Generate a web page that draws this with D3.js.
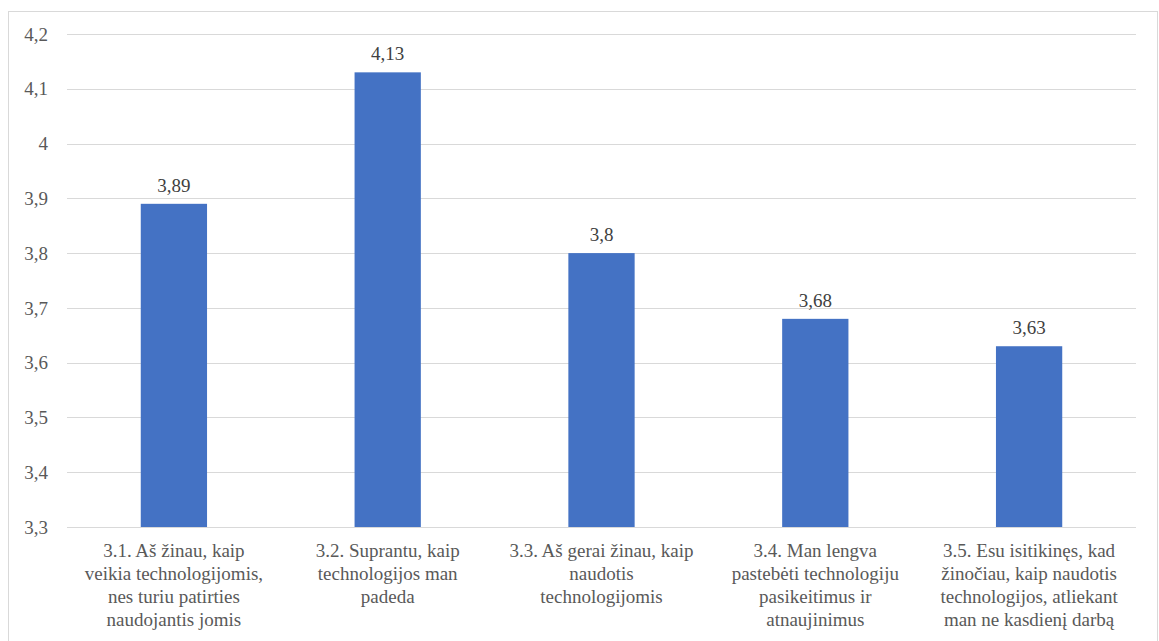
<!DOCTYPE html>
<html>
<head>
<meta charset="utf-8">
<script src="https://cdn.jsdelivr.net/npm/d3@7"></script>
<style>
  body { margin: 0; background: #fff; }
</style>
</head>
<body>
<div id="chart"></div>
<script>
// category labels (line breaks as in the original)
const categories = [
    "3.1. Aš žinau, kaip\nveikia technologijomis,\nnes turiu patirties\nnaudojantis jomis",
    "3.2. Suprantu, kaip\ntechnologijos man\npadeda",
    "3.3. Aš gerai žinau, kaip\nnaudotis\ntechnologijomis",
    "3.4. Man lengva\npastebėti technologiju\npasikeitimus ir\natnaujinimus",
    "3.5. Esu isitikinęs, kad\nžinočiau, kaip naudotis\ntechnologijos, atliekant\nman ne kasdienį darbą"
];
const values = [3.89, 4.13, 3.8, 3.68, 3.63];
const yTicks = [3.3, 3.4, 3.5, 3.6, 3.7, 3.8, 3.9, 4.0, 4.1, 4.2];

const width = 1159, height = 641;
const plot = { left: 67, right: 1136, top: 34, bottom: 527 };
const FONT = "'Liberation Serif', 'Times New Roman', Tinos, 'DejaVu Serif', serif";

const svg = d3.select("#chart").append("svg")
    .attr("width", width)
    .attr("height", height)
    .attr("font-family", FONT)
    .style("font-family", FONT);

// chart border
svg.append("rect")
    .attr("x", 8.5).attr("y", 11.5)
    .attr("width", 1149).attr("height", 640)
    .attr("fill", "#fff")
    .attr("stroke", "#d9d9d9");

const x = d3.scaleBand()
    .domain(categories)
    .range([plot.left, plot.right])
    .padding(0);

const y = d3.scaleLinear()
    .domain([3.3, 4.2])
    .range([plot.bottom, plot.top]);

const fmt = v => String(+v.toFixed(2)).replace(".", ",");

// gridlines
svg.append("g")
    .selectAll("line")
    .data(yTicks)
    .enter().append("line")
    .attr("x1", plot.left).attr("x2", plot.right)
    .attr("y1", d => Math.round(y(d)) + 0.5)
    .attr("y2", d => Math.round(y(d)) + 0.5)
    .attr("stroke", "#d9d9d9")
    .attr("stroke-width", 1);

// y tick labels
svg.append("g")
    .selectAll("text")
    .data(yTicks)
    .enter().append("text")
    .attr("x", 48)
    .attr("y", d => y(d))
    .attr("dy", "0.35em")
    .attr("text-anchor", "end")
    .attr("fill", "#595959")
    .style("font-size", "19px")
    .text(d => fmt(d));

// bars
const barW = x.bandwidth() * 0.31;
svg.append("g")
    .selectAll("rect")
    .data(values)
    .enter().append("rect")
    .attr("x", (d, i) => x(categories[i]) + (x.bandwidth() - barW) / 2)
    .attr("y", d => y(d))
    .attr("width", barW)
    .attr("height", d => y(3.3) - y(d))
    .attr("fill", "#4472c4");

// value labels
svg.append("g")
    .selectAll("text")
    .data(values)
    .enter().append("text")
    .attr("x", (d, i) => x(categories[i]) + x.bandwidth() / 2)
    .attr("y", d => y(d) - 12)
    .attr("text-anchor", "middle")
    .attr("fill", "#404040")
    .style("font-size", "19px")
    .text(d => fmt(d));

// category labels
const cat = svg.append("g")
    .selectAll("text")
    .data(categories)
    .enter().append("text")
    .attr("x", d => x(d) + x.bandwidth() / 2)
    .attr("y", 557)
    .attr("text-anchor", "middle")
    .attr("fill", "#595959")
    .style("font-size", "19px");

cat.selectAll("tspan")
    .data(d => d.split("\n"))
    .enter().append("tspan")
    .attr("x", function () { return d3.select(this.parentNode).attr("x"); })
    .attr("dy", (d, i) => i === 0 ? 0 : 23)
    .text(d => d);
</script>
</body>
</html>
